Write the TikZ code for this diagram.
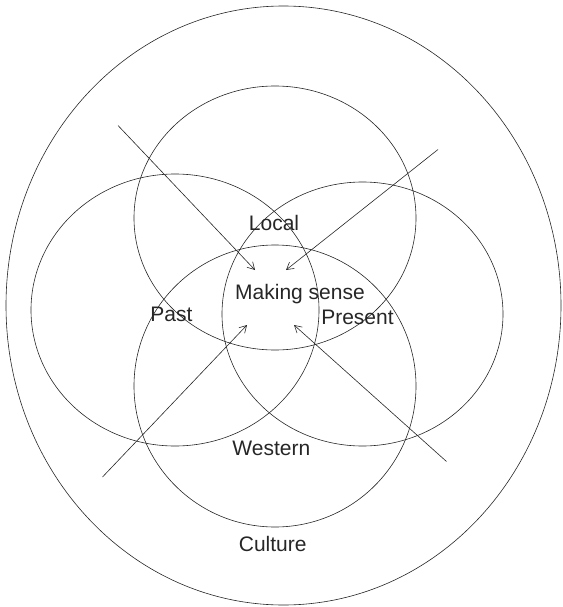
\documentclass[tikz,border=0pt]{standalone}
\usepackage{fontspec}
\setmainfont{Liberation Sans}
\usetikzlibrary{shapes.geometric,arrows.meta}
\begin{document}
\begin{tikzpicture}[x=1pt,y=-1pt,
  ring/.style={draw=black!85,line width=0.6pt,ellipse,inner sep=0pt,outer sep=0pt},
  lbl/.style={anchor=base,font=\fontsize{21}{24}\selectfont,text=black!85,inner sep=0pt},
  pointer/.style={draw=black!85,line width=0.6pt,-{Straight Barb[length=7pt,width=8pt,line width=0.6pt]}}]
\useasboundingbox (0,0) rectangle (562,607);
\node[ring,minimum width=555pt,minimum height=599pt] (culture) at (283.5,305.5) {};
\node[ring,minimum width=282pt,minimum height=264pt] (local) at (275,218) {};
\node[ring,minimum width=288pt,minimum height=272pt] (past) at (175,310) {};
\node[ring,minimum width=281pt,minimum height=264pt] (present) at (362.5,314) {};
\node[ring,minimum width=282pt,minimum height=282pt] (western) at (275,386) {};
\node[lbl] (tlocal) at (274,230) {Local};
\node[lbl] (tmaking) at (300,299) {Making sense};
\node[lbl] (tpast) at (171.5,321) {Past};
\node[lbl] (tpresent) at (357.5,324) {Present};
\node[lbl] (twestern) at (271.3,455) {Western};
\node[lbl] (tculture) at (272.7,551) {Culture};
\coordinate (s1) at (118,125.5);
\coordinate (e1) at (255,270);
\coordinate (s2) at (438,149.5);
\coordinate (e2) at (286,270);
\coordinate (s3) at (102.5,477);
\coordinate (e3) at (247,325);
\coordinate (s4) at (446.5,461.5);
\coordinate (e4) at (294,325);
\draw[pointer] (s1) -- (e1);
\draw[pointer] (s2) -- (e2);
\draw[pointer] (s3) -- (e3);
\draw[pointer] (s4) -- (e4);
\end{tikzpicture}
\end{document}
